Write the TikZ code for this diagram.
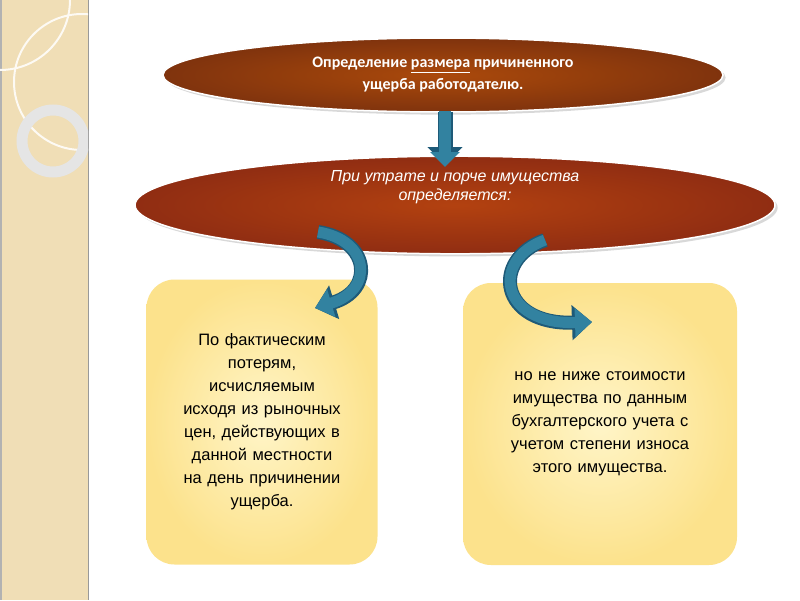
\documentclass[tikz,border=0pt]{standalone}
\usepackage{fontspec}
\setmainfont{Liberation Sans}
\newfontfamily\carl{Carlito}
\usetikzlibrary{arrows.meta,shapes.geometric,shadows}
\definecolor{strip}{RGB}{240,222,182}
\definecolor{brownA}{RGB}{150,60,15}
\definecolor{brownB}{RGB}{160,50,20}
\definecolor{boxY}{RGB}{252,226,140}
\definecolor{boxYl}{RGB}{255,245,200}
\definecolor{teal}{RGB}{50,130,160}
\definecolor{tealD}{RGB}{30,90,120}
\tikzset{
 ell/.style={ellipse,draw=white,line width=1.5pt,drop shadow={opacity=0.3},text=white,align=center,inner sep=0pt},
 box/.style={rounded corners=28pt,draw=none,inner color=boxYl,outer color=boxY,align=center,font=\fontsize{16.5}{23}\selectfont},
 arr/.style={draw=tealD,line width=14pt,-{Triangle[width=34pt,length=20pt]}},
 arri/.style={draw=teal,line width=11pt,-{Triangle[width=28pt,length=17pt]}}
}
\begin{document}
\begin{tikzpicture}[x=1pt,y=-1pt]
\useasboundingbox (0,0) rectangle (800,600);
\fill[white] (0,0) rectangle (800,600);
\fill[strip] (0,0) rectangle (88,600);
\draw[black!40,line width=1pt] (88,0)--(88,600);
\draw[black!30,line width=2pt] (1,0)--(1,600);
\begin{scope}
\clip (0,0) rectangle (88,600);
\draw[white!85!strip,line width=2pt] (82,82) circle (68);
\draw[black!10,line width=11pt] (53,141) circle (31);
\draw[white!85!strip,line width=2pt] (0,0) circle (70);
\end{scope}
\node[ell,minimum width=560pt,minimum height=74pt,inner color=brownA!80!orange,outer color=brownA!85!black,font=\carl\bfseries\fontsize{16}{22}\selectfont] (top) at (443,75)
 {Определение \underline{размера} причиненного\\ущерба работодателю.};
\node[ell,minimum width=640pt,minimum height=80pt,inner color=brownB!80!orange,outer color=brownB!90!black,font=\itshape\fontsize{16}{19}\selectfont] (mid) at (455,205)
 {При утрате и порче имущества\\определяется:\\[20pt]};
\node[box,minimum width=231pt,minimum height=285pt,text width=205pt] (L) at (262,422)
 {По фактическим\\потерям,\\исчисляемым\\исходя из рыночных\\цен, действующих в\\данной местности\\на день причинении\\ущерба.\\[34pt]};
\node[box,minimum width=274pt,minimum height=282pt,text width=235pt] (R) at (600,424)
 {но не ниже стоимости\\имущества по данным\\бухгалтерского учета с\\учетом степени износа\\этого имущества.\\[40pt]};
\coordinate (a1) at (445,112);
\coordinate (a2) at (445,165);
\draw[draw=tealD,line width=15pt,-{Triangle[width=34pt,length=18pt]}] (a1)--(a2);
\draw[draw=teal,line width=12pt,-{Triangle[width=29pt,length=15pt]}] ([yshift=1]a1)--([yshift=-2]a2);
\coordinate (l1) at (318,232);
\coordinate (l2) at (315,308);
\draw[arr] (l1) .. controls (370,240) and (375,290) .. (l2);
\draw[arri] (l1) .. controls (370,240) and (375,290) .. (l2);
\coordinate (r1) at (545,240);
\coordinate (r2) at (592,322);
\draw[arr] (r1) .. controls (490,260) and (500,325) .. (r2);
\draw[arri] (r1) .. controls (490,260) and (500,325) .. (r2);
\end{tikzpicture}
\end{document}
